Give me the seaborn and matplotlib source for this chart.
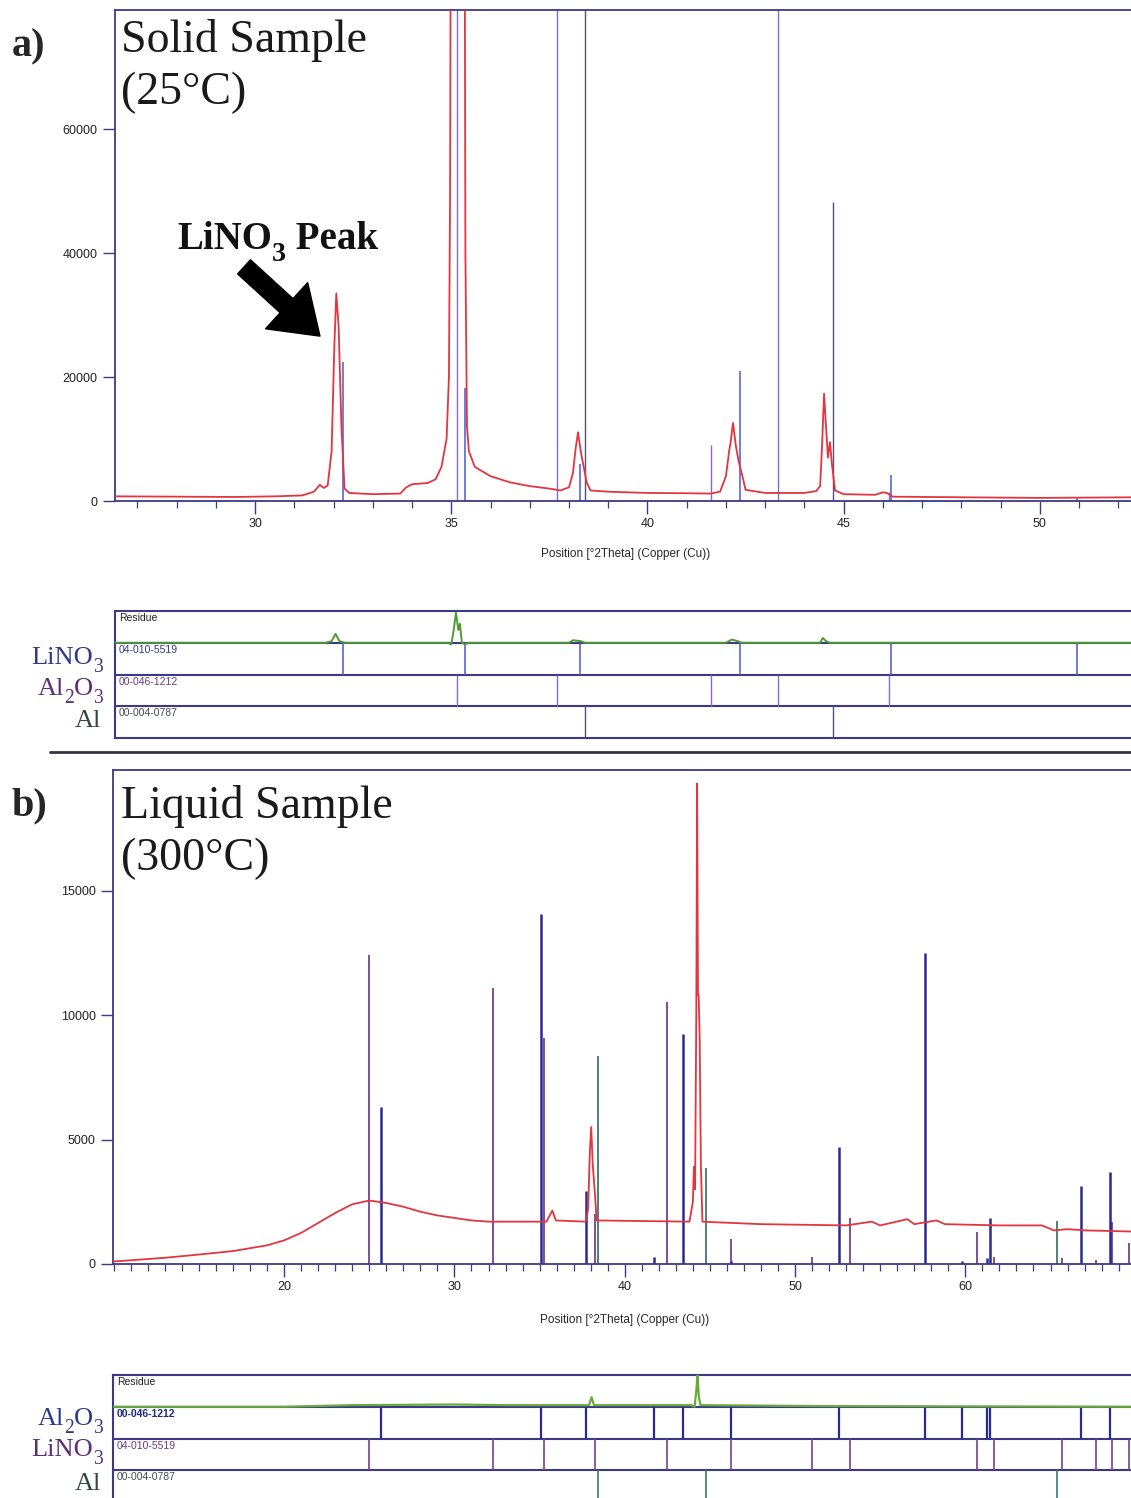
import numpy as np
import pandas as pd
import matplotlib
matplotlib.use("Agg")
import matplotlib.pyplot as plt
import seaborn as sns
from matplotlib.patches import FancyArrowPatch
from matplotlib.lines import Line2D
from matplotlib.ticker import MultipleLocator

# ---------------- DATA ----------------
# Panel a: solid sample (25 C) measured pattern (2theta, counts)
a_theta = [26.43, 28.0, 29.5, 30.5, 31.2, 31.5, 31.65, 31.75, 31.85, 31.95, 32.02, 32.07,
           32.13, 32.2, 32.28, 32.4, 33.0, 33.7, 33.85, 34.0, 34.4, 34.6, 34.75, 34.88,
           34.94, 34.97, 35.0, 35.33, 35.36, 35.4, 35.45, 35.6, 36.0, 36.5, 37.0, 37.5,
           37.78, 38.0, 38.1, 38.17, 38.23, 38.3, 38.36, 38.45, 38.55, 39.0, 40.0, 41.0,
           41.6, 41.85, 42.0, 42.08, 42.12, 42.18, 42.25, 42.32, 42.42, 42.5, 43.0, 44.0,
           44.3, 44.4, 44.45, 44.5, 44.55, 44.6, 44.65, 44.7, 44.78, 45.0, 45.8, 46.0,
           46.1, 46.25, 48.0, 50.0, 52.45]
a_counts = [750, 700, 650, 750, 900, 1500, 2600, 2100, 2500, 8000, 25000, 33500,
            28000, 12000, 2000, 1300, 1100, 1200, 2200, 2700, 2900, 3500, 5500, 10000,
            20000, 50000, 130000, 130000, 40000, 12000, 8000, 5500, 4000, 3000, 2400, 2000,
            1700, 2200, 4500, 8500, 11100, 8000, 6000, 3000, 1700, 1500, 1300, 1250,
            1200, 1500, 4000, 8000, 9500, 12600, 9000, 6500, 4000, 1800, 1300, 1300,
            1600, 2400, 9000, 17300, 12000, 7000, 9500, 6000, 1700, 1100, 1000, 1400,
            1300, 700, 600, 500, 600]

# Panel a reference sticks
a_lino3_pos = [32.24, 35.35, 38.28, 42.36, 46.21, 50.95]
a_lino3_int = [22400, 18200, 6000, 21000, 4200, 600]
a_al2o3_pos = [35.15, 37.70, 41.62, 43.33, 46.16]
a_al2o3_int = [95000, 95000, 9000, 95000, 1500]
a_al_pos = [38.41, 44.73]
a_al_int = [102000, 48200]

# Panel a residue (relative to residue row)
a_res_theta = [26.43, 31.8, 31.95, 32.05, 32.15, 32.3, 34.9, 35.0, 35.05, 35.12, 35.18,
               35.22, 35.27, 35.35, 35.45, 38.0, 38.1, 38.3, 38.4, 42.0, 42.15, 42.3,
               42.4, 44.4, 44.47, 44.55, 44.65, 52.45]
a_res_val = [0, 0, 0.05, 0.28, 0.05, 0, 0, -0.05, 0.3, 0.95, 0.4,
             0.6, 0.0, -0.05, 0, 0, 0.08, 0.05, 0, 0, 0.1, 0.05,
             0, 0, 0.15, 0.05, 0, 0]

# Panel b: liquid sample (300 C)
b_theta = [9.95, 11, 13, 15, 17, 19, 20, 21, 22, 23, 24, 25, 26, 27, 28, 29, 30, 31, 32,
           35.4, 35.75, 35.95, 37.7, 37.85, 37.95, 38.03, 38.12, 38.25, 38.35, 43.8, 44.0,
           44.06, 44.13, 44.2, 44.25, 44.3, 44.34, 44.4, 44.47, 44.56, 48, 53, 54.5, 55,
           56.6, 57, 58.3, 58.8, 62, 64.5, 65.2, 66, 67, 70.02]
b_counts = [100, 150, 250, 380, 520, 750, 950, 1250, 1650, 2050, 2400, 2550, 2450, 2300,
            2100, 1950, 1850, 1750, 1700, 1700, 2150, 1750, 1700, 2200, 4500, 5500, 4000,
            2800, 1750, 1700, 2500, 3900, 3000, 10000, 19300, 10800, 10800, 9000, 4000, 1700,
            1600, 1550, 1700, 1550, 1800, 1600, 1750, 1600, 1550, 1550, 1350, 1400, 1350, 1300]

b_al2o3_pos = [25.69, 35.08, 37.72, 41.72, 43.42, 46.24, 52.58, 57.63, 59.80, 61.27,
               61.45, 66.79, 68.49]
b_al2o3_int = [6300, 14050, 2930, 280, 9240, 130, 4700, 12490, 120, 240, 1860, 3130, 3690]
b_lino3_pos = [25.00, 32.26, 35.26, 38.25, 42.48, 46.24, 51.00, 53.23, 60.68, 61.71,
               65.67, 67.70, 68.61, 69.59]
b_lino3_int = [12400, 11100, 9080, 2000, 10520, 1000, 300, 1860, 1300, 300, 240, 150,
               1700, 860]
b_al_pos = [38.43, 44.77, 65.38]
b_al_int = [8350, 3860, 1730]

b_res_theta = [9.95, 20, 24, 30, 33, 37.9, 38.05, 38.2, 43.9, 44.1, 44.2, 44.27, 44.35,
               44.45, 52, 70.02]
b_res_val = [0, 0, 0.05, 0.07, 0.05, 0.05, 0.3, 0.05, 0.05, 0.0, 0.5, 1.0, 0.3, 0.05,
             0.02, 0]

a_yticks = [0, 20000, 40000, 60000]
b_yticks = [0, 5000, 10000, 15000]
a_xticks = [30, 35, 40, 45, 50]
b_xticks = [20, 30, 40, 50, 60]
xlabel_text = "Position [°2Theta] (Copper (Cu))"

# ---------------- STYLE ----------------
sns.set_style("ticks")
plt.rcParams["font.family"] = ["Liberation Sans", "DejaVu Sans"]

FRAME = "#3c3a86"
RED = "#e2353f"
W, H = 1131, 1498
fig = plt.figure(figsize=(W / 100, H / 100), dpi=100)
fig.patch.set_facecolor("white")
renderer = fig.canvas.get_renderer()
serif = ["Liberation Serif", "DejaVu Serif"]
PT = 100 / 72


def add_px(l, t, r, b):
    return fig.add_axes([l / W, 1 - b / H, (r - l) / W, (b - t) / H])


def style_main(ax, xmaj):
    for s in ["left", "top", "bottom"]:
        ax.spines[s].set_color(FRAME)
        ax.spines[s].set_linewidth(1.3)
    ax.spines["right"].set_visible(False)
    ax.tick_params(axis="both", which="major", direction="out", length=9, width=1.0,
                   color=FRAME, labelsize=9, pad=3.5, left=True, bottom=True,
                   labelcolor="#222222")
    ax.tick_params(axis="x", which="minor", direction="out", length=5, width=0.9,
                   color=FRAME, bottom=True)
    ax.xaxis.set_minor_locator(MultipleLocator(1))
    ax.set_xticks(xmaj)
    ax.set_ylabel("")


def style_strip(ax, xlim):
    ax.set_xlim(*xlim)
    ax.set_ylim(0, 4)
    ax.set_xticks([])
    ax.set_yticks([])
    for s in ["left", "top", "bottom"]:
        ax.spines[s].set_color(FRAME)
        ax.spines[s].set_linewidth(1.5)
    ax.spines["right"].set_visible(False)
    for k in (1, 2, 3):
        ax.axhline(k, color=FRAME, lw=1.5, zorder=1)


def chem(x_px, base_px, parts, size, color, weight="normal", ha="left",
         subscale=0.74, drop=0.32):
    arts = []
    cur = 0.0
    for s, sub in parts:
        fs = size * subscale if sub else size
        dy = drop * size * PT if sub else 0.0
        t = fig.text(0, 0, s, fontsize=fs, family=serif, fontweight=weight, color=color,
                     va="baseline", ha="left")
        w = t.get_window_extent(renderer).width
        arts.append((t, cur, dy))
        cur += w
    x0 = x_px - cur if ha == "right" else x_px
    for t, off, dy in arts:
        t.set_position(((x0 + off) / W, 1 - (base_px + dy) / H))


# ---------------- PANEL A ----------------
xa = (26.43, 52.45)
axa = add_px(115, 10, 1136, 501)
axa.vlines(a_al2o3_pos, 0, a_al2o3_int, color="#8468d6", lw=1.0, zorder=2)
axa.vlines(a_al_pos, 0, a_al_int, color="#4c5677", lw=1.0, zorder=2)
axa.vlines(a_lino3_pos, 0, a_lino3_int, color="#4a57d6", lw=1.1, zorder=2)
dfa = pd.DataFrame({"theta": a_theta, "counts": a_counts})
sns.lineplot(data=dfa, x="theta", y="counts", ax=axa, color=RED, lw=1.3, sort=False,
             estimator=None, zorder=3)
axa.set_xlim(*xa)
axa.set_ylim(0, 79200)
style_main(axa, a_xticks)
axa.set_yticks(a_yticks)
axa.set_xlabel(xlabel_text, fontsize=8.5, labelpad=13)

# strip a
sa = add_px(115, 611, 1136, 738)
style_strip(sa, xa)
sa.vlines(a_lino3_pos, 2, 3, color="#4a57d6", lw=1.1, zorder=2)
sa.vlines(a_al2o3_pos, 1, 2, color="#8468d6", lw=1.0, zorder=2)
sa.vlines(a_al_pos, 0, 1, color="#4c5677", lw=1.0, zorder=2)
dfra = pd.DataFrame({"theta": a_res_theta, "res": [3 + v for v in a_res_val]})
sns.lineplot(data=dfra, x="theta", y="res", ax=sa, color="#4f9a34", lw=1.4, sort=False,
             estimator=None, zorder=3)
sa.set_xlabel("")
sa.set_ylabel("")
sa.text(0.004, 3.93 / 4, "Residue", transform=sa.transAxes, va="top", fontsize=7.5, color="#222222")
sa.text(0.004, 2.93 / 4, "04-010-5519", transform=sa.transAxes, va="top", fontsize=7.5, color="#2d3a8c")
sa.text(0.004, 1.93 / 4, "00-046-1212", transform=sa.transAxes, va="top", fontsize=7.5, color="#6b3a86")
sa.text(0.004, 0.93 / 4, "00-004-0787", transform=sa.transAxes, va="top", fontsize=7.5, color="#444a55")

# ---------------- PANEL B ----------------
xb = (9.95, 70.02)
axb = add_px(113, 770, 1136, 1264)
axb.vlines(b_lino3_pos, 0, b_lino3_int, color="#76408e", lw=1.3, zorder=2)
axb.vlines(b_al2o3_pos, 0, b_al2o3_int, color="#2a2a94", lw=1.8, zorder=2)
axb.vlines(b_al_pos, 0, b_al_int, color="#3d7a6c", lw=1.3, zorder=2)
dfb = pd.DataFrame({"theta": b_theta, "counts": b_counts})
sns.lineplot(data=dfb, x="theta", y="counts", ax=axb, color=RED, lw=1.3, sort=False,
             estimator=None, zorder=3)
axb.set_xlim(*xb)
axb.set_ylim(0, 19840)
style_main(axb, b_xticks)
axb.set_yticks(b_yticks)
axb.set_xlabel(xlabel_text, fontsize=8.5, labelpad=15)

sb = add_px(113, 1375, 1136, 1502)
style_strip(sb, xb)
sb.vlines(b_al2o3_pos, 2, 3, color="#2a2a94", lw=1.6, zorder=2)
sb.vlines(b_lino3_pos, 1, 2, color="#76408e", lw=1.2, zorder=2)
sb.vlines(b_al_pos, 0, 1, color="#3d7a6c", lw=1.2, zorder=2)
dfrb = pd.DataFrame({"theta": b_res_theta, "res": [3 + v for v in b_res_val]})
sns.lineplot(data=dfrb, x="theta", y="res", ax=sb, color="#6aaa3c", lw=1.6, sort=False,
             estimator=None, zorder=3)
sb.set_xlabel("")
sb.set_ylabel("")
sb.text(0.004, 3.93 / 4, "Residue", transform=sb.transAxes, va="top", fontsize=7.5, color="#222222")
sb.text(0.004, 2.93 / 4, "00-046-1212", transform=sb.transAxes, va="top", fontsize=7.5,
        color="#1f2a80", fontweight="bold")
sb.text(0.004, 1.93 / 4, "04-010-5519", transform=sb.transAxes, va="top", fontsize=7.5, color="#6b3a86")
sb.text(0.004, 0.93 / 4, "00-004-0787", transform=sb.transAxes, va="top", fontsize=7.5, color="#444a55")

# ---------------- ANNOTATIONS ----------------
fig.text(12 / W, 1 - 28 / H, "a)", family=serif, fontweight="bold", fontsize=29, va="top")
fig.text(12 / W, 1 - 787 / H, "b)", family=serif, fontweight="bold", fontsize=29, va="top")
fig.text(121 / W, 1 - 19 / H, "Solid Sample\n(25°C)", family=serif, fontsize=33, va="top",
         linespacing=1.3, color="#1a1a1a")
fig.text(121 / W, 1 - 785 / H, "Liquid Sample\n(300°C)", family=serif, fontsize=33, va="top",
         linespacing=1.3, color="#1a1a1a")
chem(177, 249, [("LiNO", False), ("3", True), (" Peak", False)], 28, "#111111",
     weight="bold", subscale=0.72, drop=0.3)
arrow = FancyArrowPatch((242 / W, 1 - 265 / H), (322 / W, 1 - 338 / H), transform=fig.transFigure,
                        arrowstyle="simple,head_length=1.3,head_width=1.8,tail_width=0.55",
                        mutation_scale=25, color="black")
fig.add_artist(arrow)
fig.add_artist(Line2D([50 / W, 1.0], [1 - 752 / H, 1 - 752 / H], transform=fig.transFigure,
                      color="#333344", lw=2.0))

# strip labels
C_NAVY, C_PURP, C_GRN = "#2d3a8c", "#5b2d7a", "#2f4a3a"
chem(103, 664, [("LiNO", False), ("3", True)], 19, C_NAVY, ha="right")
chem(103, 695, [("Al", False), ("2", True), ("O", False), ("3", True)], 19, C_PURP, ha="right")
chem(101, 727, [("Al", False)], 19, C_GRN, ha="right")
chem(103, 1425, [("Al", False), ("2", True), ("O", False), ("3", True)], 19, C_NAVY, ha="right")
chem(103, 1456, [("LiNO", False), ("3", True)], 19, C_PURP, ha="right")
chem(101, 1490, [("Al", False)], 19, C_GRN, ha="right")

fig.savefig("out.png", dpi=100)
